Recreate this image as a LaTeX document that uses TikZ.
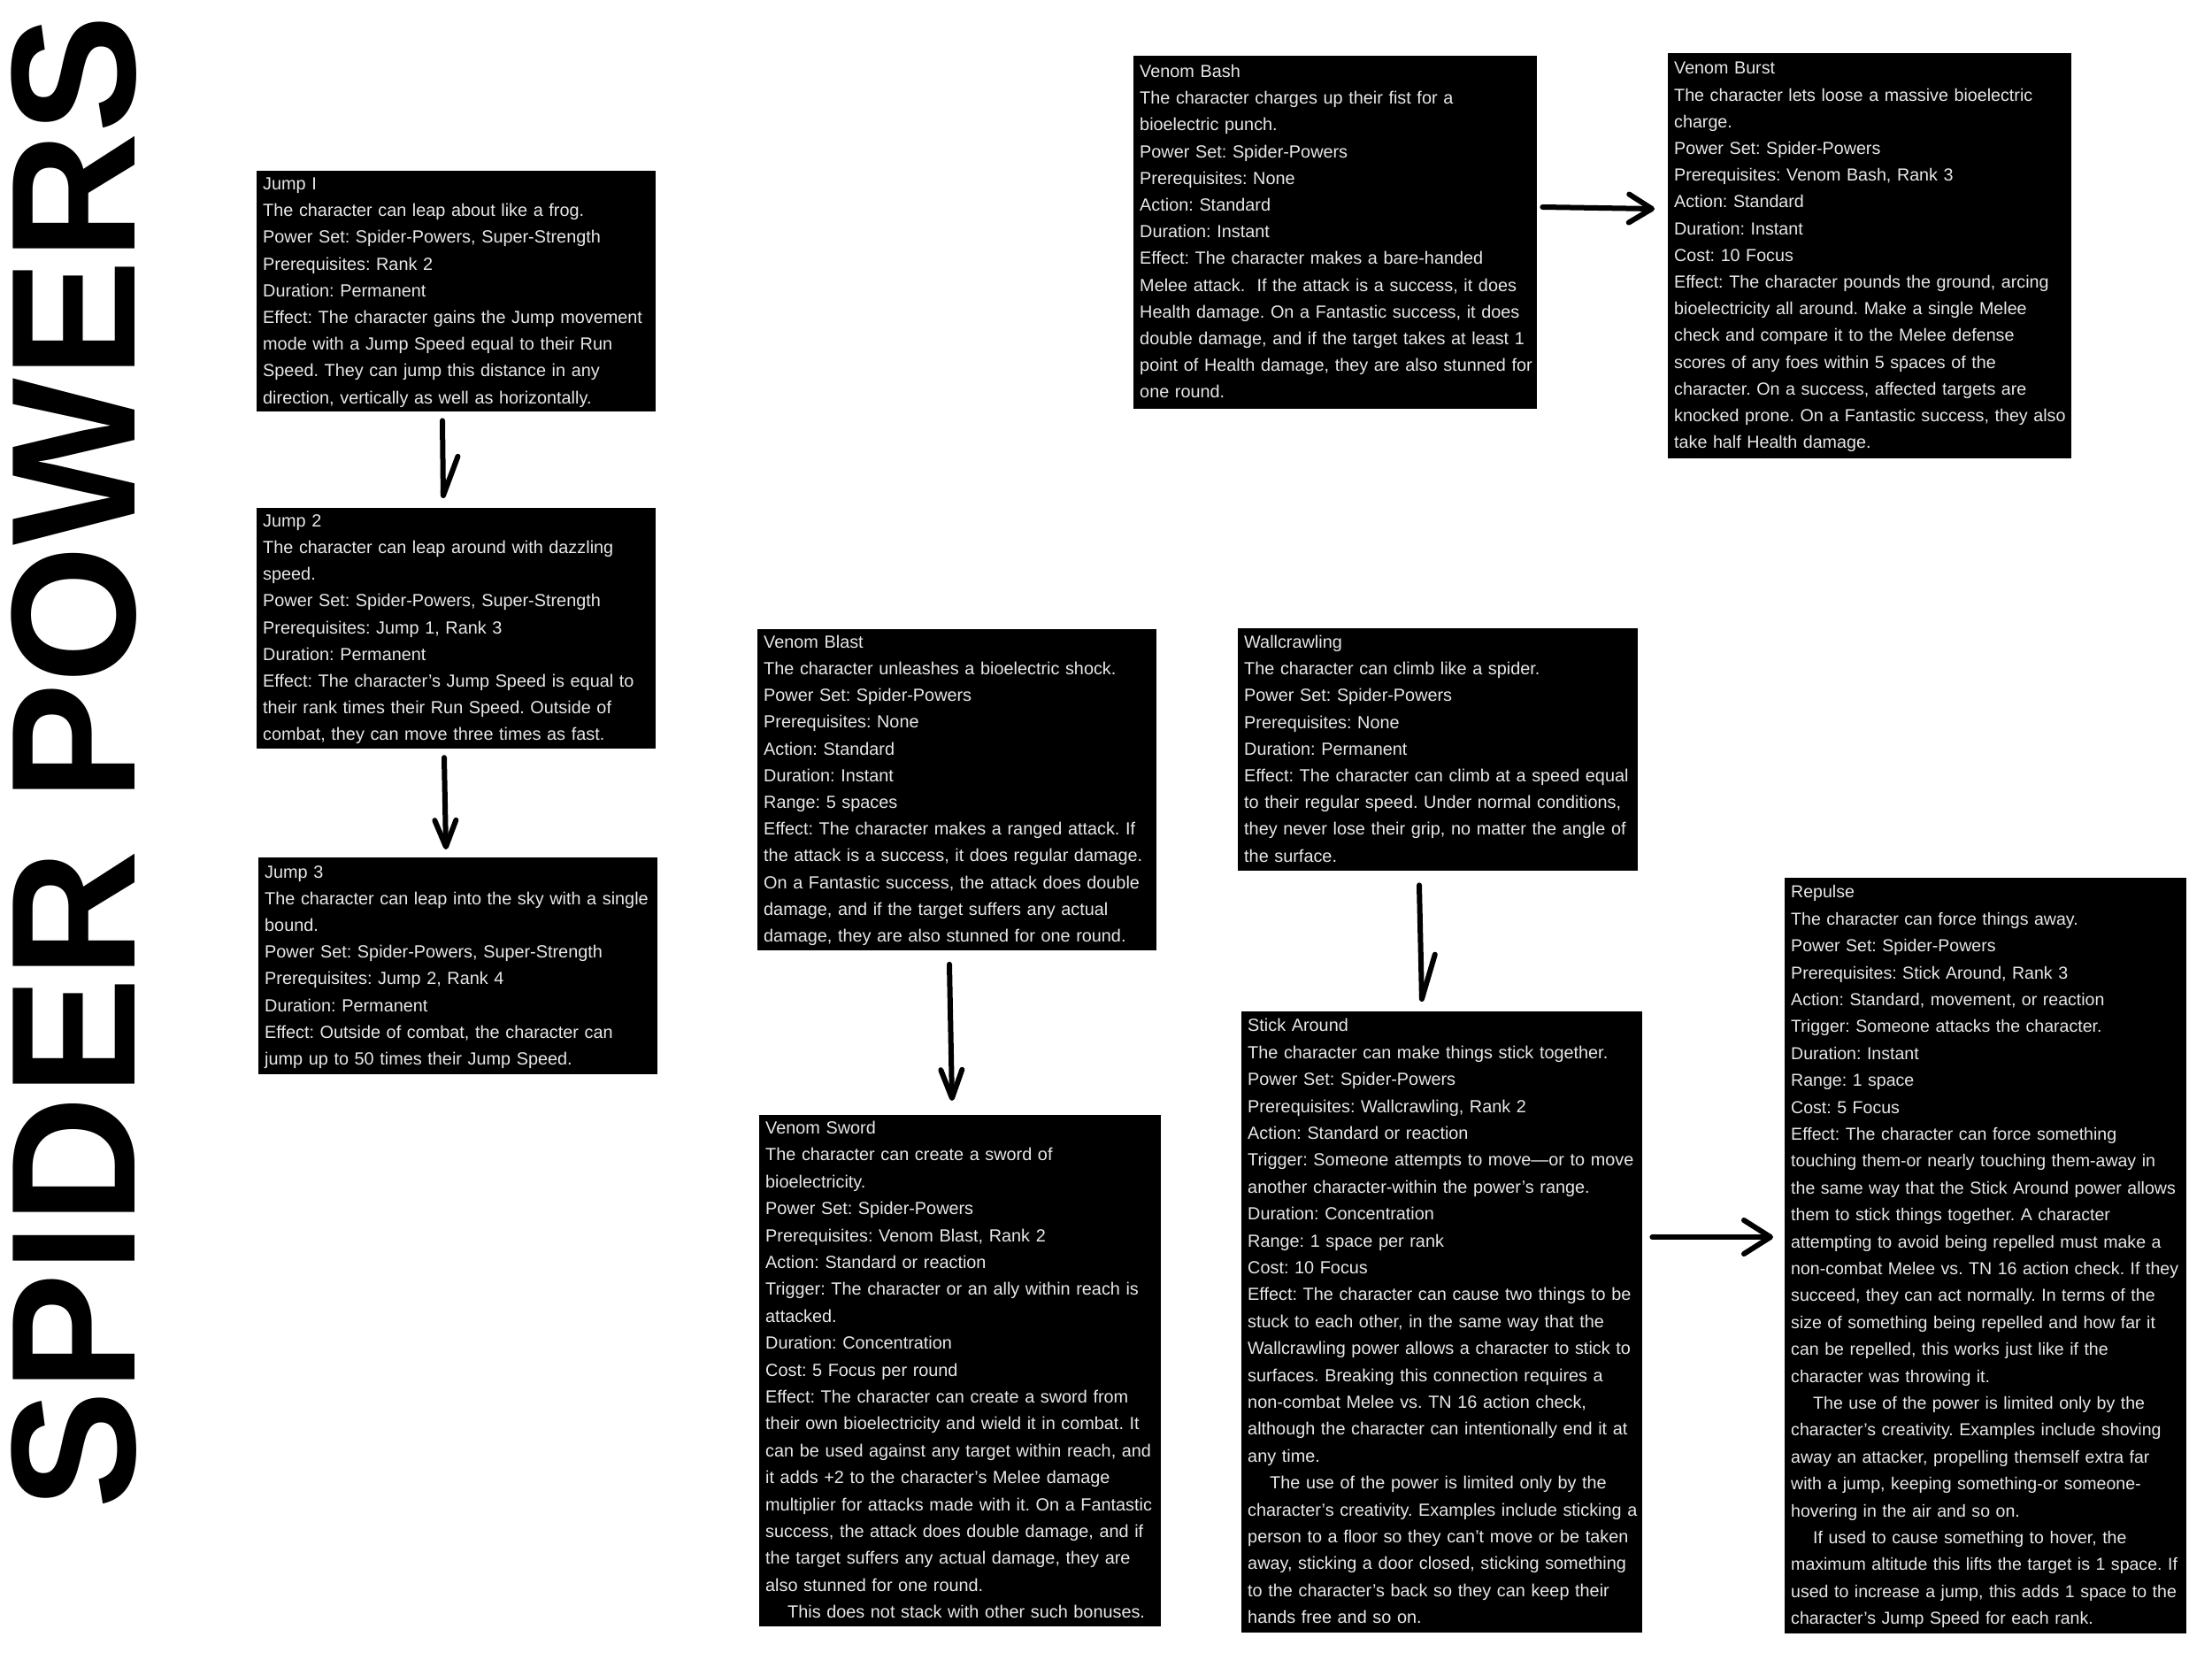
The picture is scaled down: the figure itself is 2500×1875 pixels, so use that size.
\documentclass[tikz,border=0pt]{standalone}
\usepackage{fontspec}
\setmainfont{Liberation Sans}
\usetikzlibrary{arrows.meta,calc}
\definecolor{boxtext}{HTML}{E8E8E8}
\newcommand\bx[1]{\makebox[0pt][l]{\strut#1}}
\tikzset{
  powerbox/.style={fill=black, text=boxtext, align=left, anchor=north west,
    inner xsep=7pt, inner ysep=0pt, font=\fontsize{19.85}{30.2}\selectfont},
  conn/.style={line width=6pt, line cap=round, line join=round},
}
\frenchspacing
\begin{document}
\begin{tikzpicture}[x=1pt, y=-1pt]
\useasboundingbox (0,0) rectangle (2500,1875);
\fill[white] (0,0) rectangle (2500,1875);

\node[rotate=90, anchor=base, inner sep=0pt, font=\bfseries\fontsize{200}{200}\selectfont] (title) at (152,861) {SPIDER POWERS};

\node[powerbox, minimum width=451pt, minimum height=272pt, text width=437pt] (j1) at (290,193) {\bx{Jump I}\\
\bx{The character can leap about like a frog.}\\
\bx{Power Set: Spider-Powers, Super-Strength}\\
\bx{Prerequisites: Rank 2}\\
\bx{Duration: Permanent}\\
\bx{Effect: The character gains the Jump movement}\\
\bx{mode with a Jump Speed equal to their Run}\\
\bx{Speed. They can jump this distance in any}\\
\bx{direction, vertically as well as horizontally.}};

\node[powerbox, minimum width=451pt, minimum height=269pt, text width=437pt] (j2) at (290,574) {\bx{Jump 2}\\
\bx{The character can leap around with dazzling}\\
\bx{speed.}\\
\bx{Power Set: Spider-Powers, Super-Strength}\\
\bx{Prerequisites: Jump 1, Rank 3}\\
\bx{Duration: Permanent}\\
\bx{Effect: The character's Jump Speed is equal to}\\
\bx{their rank times their Run Speed. Outside of}\\
\bx{combat, they can move three times as fast.}};

\node[powerbox, minimum width=451pt, minimum height=245pt, text width=437pt] (j3) at (292,969) {\bx{Jump 3}\\
\bx{The character can leap into the sky with a single}\\
\bx{bound.}\\
\bx{Power Set: Spider-Powers, Super-Strength}\\
\bx{Prerequisites: Jump 2, Rank 4}\\
\bx{Duration: Permanent}\\
\bx{Effect: Outside of combat, the character can}\\
\bx{jump up to 50 times their Jump Speed.}};

\node[powerbox, minimum width=456pt, minimum height=399pt, text width=442pt] (bash) at (1281,63) {\bx{Venom Bash}\\
\bx{The character charges up their fist for a}\\
\bx{bioelectric punch.}\\
\bx{Power Set: Spider-Powers}\\
\bx{Prerequisites: None}\\
\bx{Action: Standard}\\
\bx{Duration: Instant}\\
\bx{Effect: The character makes a bare-handed}\\
\bx{Melee attack.\ \ If the attack is a success, it does}\\
\bx{Health damage. On a Fantastic success, it does}\\
\bx{double damage, and if the target takes at least 1}\\
\bx{point of Health damage, they are also stunned for}\\
\bx{one round.}};

\node[powerbox, minimum width=456pt, minimum height=458pt, text width=442pt, font=\fontsize{19.7}{30.2}\selectfont] (burst) at (1885,60) {\bx{Venom Burst}\\
\bx{The character lets loose a massive bioelectric}\\
\bx{charge.}\\
\bx{Power Set: Spider-Powers}\\
\bx{Prerequisites: Venom Bash, Rank 3}\\
\bx{Action: Standard}\\
\bx{Duration: Instant}\\
\bx{Cost: 10 Focus}\\
\bx{Effect: The character pounds the ground, arcing}\\
\bx{bioelectricity all around. Make a single Melee}\\
\bx{check and compare it to the Melee defense}\\
\bx{scores of any foes within 5 spaces of the}\\
\bx{character. On a success, affected targets are}\\
\bx{knocked prone. On a Fantastic success, they also}\\
\bx{take half Health damage.}};

\node[powerbox, minimum width=451pt, minimum height=359pt, text width=437pt] (blast) at (856,711) {\bx{Venom Blast}\\
\bx{The character unleashes a bioelectric shock.}\\
\bx{Power Set: Spider-Powers}\\
\bx{Prerequisites: None}\\
\bx{Action: Standard}\\
\bx{Duration: Instant}\\
\bx{Range: 5 spaces}\\
\bx{Effect: The character makes a ranged attack. If}\\
\bx{the attack is a success, it does regular damage.}\\
\bx{On a Fantastic success, the attack does double}\\
\bx{damage, and if the target suffers any actual}\\
\bx{damage, they are also stunned for one round.}};

\node[powerbox, minimum width=452pt, minimum height=274pt, text width=438pt] (wall) at (1399,710) {\bx{Wallcrawling}\\
\bx{The character can climb like a spider.}\\
\bx{Power Set: Spider-Powers}\\
\bx{Prerequisites: None}\\
\bx{Duration: Permanent}\\
\bx{Effect: The character can climb at a speed equal}\\
\bx{to their regular speed. Under normal conditions,}\\
\bx{they never lose their grip, no matter the angle of}\\
\bx{the surface.}};

\node[powerbox, minimum width=454pt, minimum height=577pt, text width=440pt, font=\fontsize{19.85}{30.4}\selectfont] (sword) at (858,1260) {\bx{Venom Sword}\\
\bx{The character can create a sword of}\\
\bx{bioelectricity.}\\
\bx{Power Set: Spider-Powers}\\
\bx{Prerequisites: Venom Blast, Rank 2}\\
\bx{Action: Standard or reaction}\\
\bx{Trigger: The character or an ally within reach is}\\
\bx{attacked.}\\
\bx{Duration: Concentration}\\
\bx{Cost: 5 Focus per round}\\
\bx{Effect: The character can create a sword from}\\
\bx{their own bioelectricity and wield it in combat. It}\\
\bx{can be used against any target within reach, and}\\
\bx{it adds +2 to the character's Melee damage}\\
\bx{multiplier for attacks made with it. On a Fantastic}\\
\bx{success, the attack does double damage, and if}\\
\bx{the target suffers any actual damage, they are}\\
\bx{also stunned for one round.}\\
\bx{\hspace*{25pt}This does not stack with other such bonuses.}};

\node[powerbox, minimum width=453pt, minimum height=702pt, text width=439pt, font=\fontsize{19.85}{30.4}\selectfont] (stick) at (1403,1143) {\bx{Stick Around}\\
\bx{The character can make things stick together.}\\
\bx{Power Set: Spider-Powers}\\
\bx{Prerequisites: Wallcrawling, Rank 2}\\
\bx{Action: Standard or reaction}\\
\bx{Trigger: Someone attempts to move—or to move}\\
\bx{another character-within the power's range.}\\
\bx{Duration: Concentration}\\
\bx{Range: 1 space per rank}\\
\bx{Cost: 10 Focus}\\
\bx{Effect: The character can cause two things to be}\\
\bx{stuck to each other, in the same way that the}\\
\bx{Wallcrawling power allows a character to stick to}\\
\bx{surfaces. Breaking this connection requires a}\\
\bx{non-combat Melee vs. TN 16 action check,}\\
\bx{although the character can intentionally end it at}\\
\bx{any time.}\\
\bx{\hspace*{25pt}The use of the power is limited only by the}\\
\bx{character's creativity. Examples include sticking a}\\
\bx{person to a floor so they can't move or be taken}\\
\bx{away, sticking a door closed, sticking something}\\
\bx{to the character's back so they can keep their}\\
\bx{hands free and so on.}};

\node[powerbox, minimum width=454pt, minimum height=854pt, text width=440pt, font=\fontsize{19.55}{30.4}\selectfont] (rep) at (2017,992) {\bx{Repulse}\\
\bx{The character can force things away.}\\
\bx{Power Set: Spider-Powers}\\
\bx{Prerequisites: Stick Around, Rank 3}\\
\bx{Action: Standard, movement, or reaction}\\
\bx{Trigger: Someone attacks the character.}\\
\bx{Duration: Instant}\\
\bx{Range: 1 space}\\
\bx{Cost: 5 Focus}\\
\bx{Effect: The character can force something}\\
\bx{touching them-or nearly touching them-away in}\\
\bx{the same way that the Stick Around power allows}\\
\bx{them to stick things together. A character}\\
\bx{attempting to avoid being repelled must make a}\\
\bx{non-combat Melee vs. TN 16 action check. If they}\\
\bx{succeed, they can act normally. In terms of the}\\
\bx{size of something being repelled and how far it}\\
\bx{can be repelled, this works just like if the}\\
\bx{character was throwing it.}\\
\bx{\hspace*{25pt}The use of the power is limited only by the}\\
\bx{character's creativity. Examples include shoving}\\
\bx{away an attacker, propelling themself extra far}\\
\bx{with a jump, keeping something-or someone-}\\
\bx{hovering in the air and so on.}\\
\bx{\hspace*{25pt}If used to cause something to hover, the}\\
\bx{maximum altitude this lifts the target is 1 space. If}\\
\bx{used to increase a jump, this adds 1 space to the}\\
\bx{character's Jump Speed for each rank.}};

% connectors
\draw[conn, -{Straight Barb[harpoon, length=44pt, width=34pt, line cap=round, line join=round]}]
  ($(j1.south west)+(210,10)$) -- ($(j2.north west)+(211,-11)$);
\draw[conn, -{Straight Barb[length=30pt, width=24pt, line cap=round, line join=round]}]
  ($(j2.south west)+(212,10)$) -- ($(j3.north west)+(212,-9)$);
\draw[conn, -{Straight Barb[length=26pt, width=32pt, line cap=round, line join=round]}]
  ($(bash.north east)+(6,171)$) -- ($(burst.north west)+(-15,176)$);
\draw[conn, -{Straight Barb[length=32pt, width=24pt, line cap=round, line join=round]}]
  ($(blast.south west)+(217,16)$) -- ($(sword.north west)+(218,-16)$);
\draw[conn, -{Straight Barb[harpoon, length=50pt, width=32pt, line cap=round, line join=round]}]
  ($(wall.south west)+(205,16)$) -- ($(stick.north west)+(204,-11)$);
\draw[conn, -{Straight Barb[length=30pt, width=38pt, line cap=round, line join=round]}]
  ($(stick.north east)+(11,255)$) -- ($(rep.north west)+(-13,406)$);
\end{tikzpicture}
\end{document}
